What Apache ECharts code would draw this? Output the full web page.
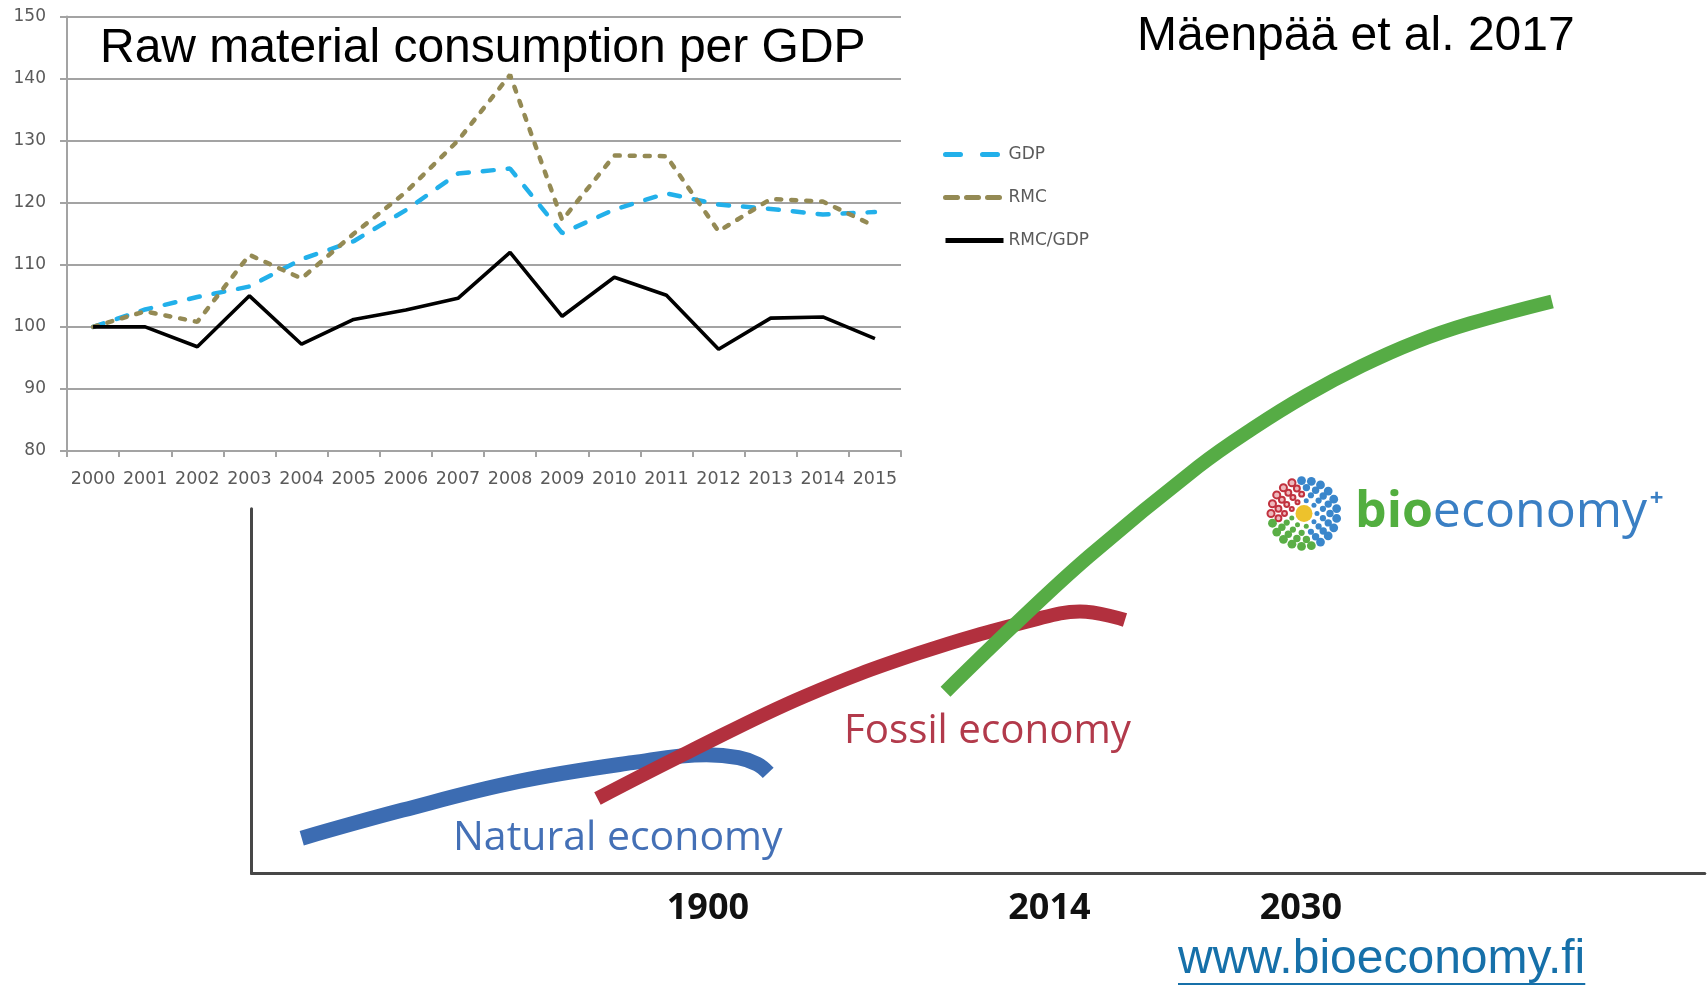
<!DOCTYPE html>
<html>
<head>
<meta charset="utf-8">
<script src="https://cdn.jsdelivr.net/npm/echarts@6.0.0/dist/echarts.min.js"></script>
<style>
  html, body { margin: 0; padding: 0; background: #ffffff; }
  #chart { width: 1708px; height: 987px; }
</style>
</head>
<body>
<div id="chart"></div>
<script>
// Index series, 2000 = 100
const years = ['2000', '2001', '2002', '2003', '2004', '2005', '2006', '2007',
               '2008', '2009', '2010', '2011', '2012', '2013', '2014', '2015'];
const gdp       = [100, 102.8, 104.8, 106.5, 110.9, 113.8, 118.8, 124.7, 125.5, 115.1, 118.9, 121.5, 119.7, 119.0, 118.1, 118.5];
const rmc       = [100, 102.5, 100.8, 111.6, 107.8, 115.0, 121.7, 130.0, 140.6, 117.2, 127.6, 127.5, 115.4, 120.6, 120.2, 116.2];
const rmcPerGdp = [100, 100.0,  96.8, 105.0,  97.2, 101.2, 102.7, 104.6, 112.0, 101.7, 108.0, 105.1,  96.4, 101.4, 101.6,  98.1];
const indexMin = 80, indexMax = 150, indexStep = 10;

// Schematic of economic eras: x = time, y = scale of the economy (unitless 0-100)
const eraTickLabels = ['1900', '2014', '2030'];
const eraTickValues = [31.4, 54.9, 72.2];
const naturalEconomy = [[3.45, 9.7], [10.4, 17.4], [18.3, 25.2], [26.2, 30.4], [31.3, 32.6], [33.5, 31.8], [34.8, 30.0], [35.55, 27.6]];
const fossilEconomy  = [[23.8, 20.6], [30.1, 33.4], [38.0, 48.5], [45.9, 60.4], [53.8, 69.5], [57.0, 71.8], [60.1, 69.5]];
const bioEconomy     = [[47.75, 49.85], [52.4, 67.8], [57.64, 87.0], [65.14, 111.5], [68.88, 121.95], [72.63, 131.2],
                        [76.38, 139.1], [80.12, 145.7], [83.87, 150.8], [89.49, 156.8]];

const chart = echarts.init(document.getElementById('chart'), null, { renderer: 'canvas' });

const axisGray = '#a3a3a3';
const smallFont = 'DejaVu Sans';
const smallText = '#5a5a5a';

// Flower mark of the bioeconomy logo: rings of small dots around a yellow centre
function flowerMark(cx, cy) {
  const rings = [
    { r: 13.0, n: 9,  size: 2.5 },
    { r: 19.5, n: 13, size: 3.1 },
    { r: 26.0, n: 17, size: 3.7 },
    { r: 33.0, n: 21, size: 4.4 }
  ];
  const parts = [];
  rings.forEach((ring, k) => {
    for (let i = 0; i < ring.n; i++) {
      const deg = ((i + (k % 2) * 0.5) / ring.n) * 360;
      const rad = deg * Math.PI / 180;
      const x = cx + ring.r * Math.cos(rad);
      const y = cy - ring.r * Math.sin(rad);
      if (deg >= 95 && deg < 195) {
        parts.push({ type: 'circle', shape: { cx: x, cy: y, r: ring.size * 0.8 },
          style: { fill: '#eeb9bd', stroke: '#c1323f', lineWidth: 2 } });
      } else if (deg >= 195 && deg < 290) {
        parts.push({ type: 'circle', shape: { cx: x, cy: y, r: ring.size },
          style: { fill: '#5aae46' } });
      } else {
        parts.push({ type: 'circle', shape: { cx: x, cy: y, r: ring.size },
          style: { fill: '#3a86cb' } });
      }
    }
  });
  parts.push({ type: 'circle', shape: { cx: cx, cy: cy, r: 8.5 }, style: { fill: '#edc22c' } });
  return parts;
}

// Width of the link text, for its underline
const urlText = 'www.bioeconomy.fi';
const urlFont = '48px "Liberation Sans"';
const measureCtx = document.createElement('canvas').getContext('2d');
measureCtx.font = urlFont;
const urlWidth = measureCtx.measureText(urlText).width;

const option = {
  backgroundColor: '#ffffff',
  animation: false,
  legend: {
    orient: 'vertical',
    left: 938,
    top: 141,
    itemWidth: 58,
    itemHeight: 14,
    itemGap: 26,
    itemStyle: { opacity: 0 },
    textStyle: { fontFamily: smallFont, fontSize: 17, color: smallText, padding: [0, 0, 0, 0] },
    data: [
      { name: 'GDP', lineStyle: { color: '#22b0ea', width: 5, type: [15, 22], cap: 'round' } },
      { name: 'RMC', lineStyle: { color: '#948a54', width: 5, type: [12, 9], cap: 'round' } },
      { name: 'RMC/GDP', lineStyle: { color: '#000000', width: 5, type: 'solid' } }
    ]
  },
  grid: [
    { left: 67, right: 807, top: 16.5, bottom: 536 },
    { left: 251.6, right: 3.2, top: 508.7, bottom: 113.4 }
  ],
  xAxis: [
    {
      gridIndex: 0,
      type: 'category',
      data: years,
      boundaryGap: true,
      axisLine: { lineStyle: { color: axisGray, width: 2 } },
      axisTick: { show: true, length: 6, lineStyle: { color: axisGray, width: 2 } },
      axisLabel: { interval: 0, margin: 19, color: smallText, fontFamily: smallFont, fontSize: 17.5 },
      splitLine: { show: false }
    },
    {
      gridIndex: 1,
      type: 'value',
      min: 0,
      max: 100,
      axisLine: { show: true, onZero: false, lineStyle: { color: '#474747', width: 3 } },
      axisTick: { show: false },
      splitLine: { show: false },
      axisLabel: {
        customValues: eraTickValues,
        formatter: (v) => {
          const i = eraTickValues.indexOf(v);
          return i >= 0 ? eraTickLabels[i] : '';
        },
        margin: 17,
        color: '#111111',
        fontFamily: 'Open Sans',
        fontWeight: 'bold',
        fontSize: 36
      }
    }
  ],
  yAxis: [
    {
      gridIndex: 0,
      type: 'value',
      min: indexMin,
      max: indexMax,
      interval: indexStep,
      axisLine: { show: true, lineStyle: { color: axisGray, width: 2 } },
      axisTick: { show: true, length: 7, lineStyle: { color: axisGray, width: 2 } },
      axisLabel: { margin: 21, color: smallText, fontFamily: smallFont, fontSize: 17 },
      splitLine: { show: true, lineStyle: { color: axisGray, width: 2 } }
    },
    {
      gridIndex: 1,
      type: 'value',
      min: 0,
      max: 100,
      axisLine: { show: true, onZero: false, lineStyle: { color: '#474747', width: 3 } },
      axisTick: { show: false },
      axisLabel: { show: false },
      splitLine: { show: false }
    }
  ],
  series: [
    {
      name: 'GDP', type: 'line', xAxisIndex: 0, yAxisIndex: 0, data: gdp,
      symbol: 'none', lineStyle: { color: '#22b0ea', width: 4.5, type: [11, 14], cap: 'round' },
      itemStyle: { color: '#22b0ea' }
    },
    {
      name: 'RMC', type: 'line', xAxisIndex: 0, yAxisIndex: 0, data: rmc,
      symbol: 'none', lineStyle: { color: '#948a54', width: 4.5, type: [5, 10], cap: 'round' },
      itemStyle: { color: '#948a54' }
    },
    {
      name: 'RMC/GDP', type: 'line', xAxisIndex: 0, yAxisIndex: 0, data: rmcPerGdp,
      symbol: 'none', lineStyle: { color: '#000000', width: 3.6 },
      itemStyle: { color: '#000000' }
    },
    {
      name: 'Natural economy', type: 'line', xAxisIndex: 1, yAxisIndex: 1, data: naturalEconomy,
      symbol: 'none', smooth: 0.4, clip: false,
      lineStyle: { color: '#3c6cb2', width: 15, cap: 'butt' }
    },
    {
      name: 'Fossil economy', type: 'line', xAxisIndex: 1, yAxisIndex: 1, data: fossilEconomy,
      symbol: 'none', smooth: 0.4, clip: false,
      lineStyle: { color: '#b2303e', width: 14, cap: 'butt' }
    },
    {
      name: 'Bioeconomy', type: 'line', xAxisIndex: 1, yAxisIndex: 1, data: bioEconomy,
      symbol: 'none', smooth: 0.4, clip: false,
      lineStyle: { color: '#56ac45', width: 14, cap: 'butt' }
    }
  ],
  graphic: [
    {
      type: 'text', x: 100, y: 48.7,
      style: { text: 'Raw material consumption per GDP', font: '48px "Liberation Sans"',
               fill: '#000000', align: 'left', verticalAlign: 'middle' }
    },
    {
      type: 'text', x: 1137, y: 36.8,
      style: { text: 'Mäenpää et al. 2017', font: '48px "Liberation Sans"',
               fill: '#000000', align: 'left', verticalAlign: 'middle' }
    },
    {
      type: 'text', x: 453, y: 838.3,
      style: { text: 'Natural economy', font: '41px "Open Sans"',
               fill: '#4470b6', align: 'left', verticalAlign: 'middle' }
    },
    {
      type: 'text', x: 844, y: 731.8,
      style: { text: 'Fossil economy', font: '40.3px "Open Sans"',
               fill: '#b23a4b', align: 'left', verticalAlign: 'middle' }
    },
    {
      type: 'group',
      children: flowerMark(1304, 513.5)
    },
    {
      type: 'text', x: 1355, y: 512.8,
      style: {
        text: '{bio|bio}{eco|economy}',
        verticalAlign: 'middle', align: 'left',
        rich: {
          bio: { font: 'bold 50px "Open Sans"', fill: '#52ae3f' },
          eco: { font: '50px "Open Sans"', fill: '#3a7fc4' }
        }
      }
    },
    {
      type: 'text', x: 1656.5, y: 499.5,
      style: { text: '+', font: 'bold 24px "Open Sans"', fill: '#3a7fc4',
               align: 'center', verticalAlign: 'middle' }
    },
    {
      type: 'text', x: 1178, y: 960,
      style: { text: urlText, font: urlFont, fill: '#1670a9', align: 'left', verticalAlign: 'middle' }
    },
    {
      type: 'rect', shape: { x: 1178, y: 983, width: urlWidth, height: 2 },
      style: { fill: '#1670a9' }
    }
  ]
};

chart.setOption(option);
</script>
</body>
</html>
